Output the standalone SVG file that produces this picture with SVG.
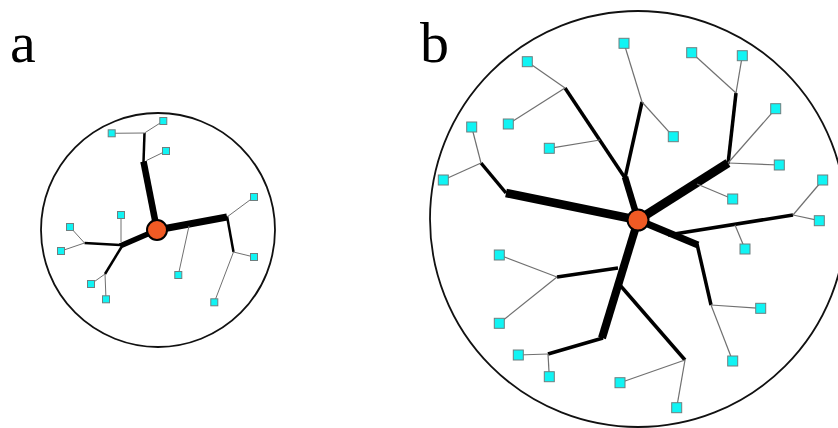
<svg xmlns="http://www.w3.org/2000/svg" width="838" height="428" viewBox="0 0 838 428">
  <style>
    .label { font-family: "Liberation Serif", "Times New Roman", serif; font-size: 58px; fill: #000; }
    .ring { fill: none; stroke: #111; stroke-width: 1.8; }
    .hub { fill: #F05A24; stroke: #000; stroke-width: 2; }
    .leaf-a rect, .leaf-b rect { fill: #10F4F4; stroke: #6f7f7f; stroke-width: 1; }
    .thick, .mid, .thin { stroke-linecap: butt; fill: none; }
    .mid { stroke: #000; }
    .thin { stroke: #707070; }
    .thick { stroke: #000; }
  </style>
  <rect width="838" height="428" fill="#fff"/>

  <text class="label" x="10" y="62">a</text>
  <text class="label" x="420" y="62">b</text>

  <!-- outer boundaries -->
  <circle id="boundary-a" class="ring" cx="158" cy="230" r="117"/>
  <circle id="boundary-b" class="ring" cx="638" cy="219" r="208"/>

  <g id="connectors">
    <!-- tree a -->
    <g id="connectors-a">
      <line class="thick" x1="157" y1="230" x2="143.5" y2="161.5" stroke-width="6.5"/>
      <line class="thick" x1="157" y1="230" x2="227" y2="217" stroke-width="7"/>
      <line class="thick" x1="157" y1="230" x2="120" y2="246" stroke-width="5.5"/>
      <line class="mid" x1="143.5" y1="162" x2="144.5" y2="133" stroke-width="2.5"/>
      <line class="mid" x1="227" y1="216" x2="233.5" y2="252" stroke-width="2.5"/>
      <line class="mid" x1="120" y1="245" x2="84.5" y2="243" stroke-width="2.5"/>
      <line class="mid" x1="121.5" y1="247" x2="105" y2="274" stroke-width="2.5"/>
      <line class="thin" x1="144.5" y1="133" x2="111.7" y2="133.3"/>
      <line class="thin" x1="144.5" y1="133" x2="163.3" y2="121"/>
      <line class="thin" x1="146.5" y1="160.5" x2="166" y2="151"/>
      <line class="thin" x1="227" y1="217" x2="254" y2="197"/>
      <line class="thin" x1="233.5" y1="252" x2="254" y2="257"/>
      <line class="thin" x1="233.5" y1="252" x2="214.3" y2="302.3"/>
      <line class="thin" x1="189" y1="226" x2="178.3" y2="275"/>
      <line class="thin" x1="84.5" y1="243" x2="70" y2="227"/>
      <line class="thin" x1="84.5" y1="243" x2="61" y2="251"/>
      <line class="thin" x1="105" y1="274" x2="91" y2="284"/>
      <line class="thin" x1="105" y1="274" x2="106" y2="299.3"/>
      <line class="thin" x1="121" y1="242" x2="121" y2="215"/>
    </g>
    <!-- tree b -->
    <g id="connectors-b">
      <line class="thick" x1="638" y1="220" x2="506" y2="193" stroke-width="8.5"/>
      <line class="thick" x1="638" y1="220" x2="625" y2="177" stroke-width="6.5"/>
      <line class="thick" x1="638" y1="220" x2="728" y2="163" stroke-width="9"/>
      <line class="thick" x1="638" y1="220" x2="698" y2="245" stroke-width="7"/>
      <line class="thick" x1="638" y1="220" x2="602" y2="338" stroke-width="8"/>
      <line class="mid" x1="506" y1="193" x2="481" y2="163" stroke-width="3.5"/>
      <line class="mid" x1="625" y1="178" x2="565" y2="88" stroke-width="3.5"/>
      <line class="mid" x1="625" y1="178" x2="642" y2="102" stroke-width="3.5"/>
      <line class="mid" x1="728" y1="164" x2="736" y2="93" stroke-width="3.5"/>
      <line class="mid" x1="668" y1="235" x2="793" y2="215" stroke-width="3.5"/>
      <line class="mid" x1="697" y1="244" x2="711" y2="305" stroke-width="3.5"/>
      <line class="mid" x1="619" y1="284" x2="685" y2="360" stroke-width="3.5"/>
      <line class="mid" x1="603" y1="338" x2="548" y2="354" stroke-width="3.5"/>
      <line class="mid" x1="618" y1="268" x2="557" y2="277" stroke-width="3.5"/>
      <line class="thin" x1="481" y1="163" x2="471.7" y2="127" stroke-width="1.2"/>
      <line class="thin" x1="481" y1="163" x2="443.3" y2="180" stroke-width="1.2"/>
      <line class="thin" x1="565" y1="88" x2="527.3" y2="61.7" stroke-width="1.2"/>
      <line class="thin" x1="565" y1="88" x2="508.3" y2="124" stroke-width="1.2"/>
      <line class="thin" x1="600" y1="140" x2="549.3" y2="148.3" stroke-width="1.2"/>
      <line class="thin" x1="642" y1="102" x2="624" y2="43.3" stroke-width="1.2"/>
      <line class="thin" x1="642" y1="102" x2="673.3" y2="136.7" stroke-width="1.2"/>
      <line class="thin" x1="736" y1="93" x2="691.7" y2="52.7" stroke-width="1.2"/>
      <line class="thin" x1="736" y1="93" x2="742.3" y2="55.7" stroke-width="1.2"/>
      <line class="thin" x1="728" y1="163" x2="775.7" y2="108.7" stroke-width="1.2"/>
      <line class="thin" x1="728" y1="163" x2="779.3" y2="165" stroke-width="1.2"/>
      <line class="thin" x1="697" y1="184" x2="732.7" y2="199" stroke-width="1.2"/>
      <line class="thin" x1="793" y1="215" x2="819.3" y2="220.7" stroke-width="1.2"/>
      <line class="thin" x1="793" y1="215" x2="822.7" y2="180" stroke-width="1.2"/>
      <line class="thin" x1="735" y1="225" x2="745" y2="249" stroke-width="1.2"/>
      <line class="thin" x1="711" y1="305" x2="760.7" y2="308.3" stroke-width="1.2"/>
      <line class="thin" x1="711" y1="305" x2="732.7" y2="361" stroke-width="1.2"/>
      <line class="thin" x1="685" y1="360" x2="676.7" y2="407.7" stroke-width="1.2"/>
      <line class="thin" x1="685" y1="360" x2="620" y2="382.7" stroke-width="1.2"/>
      <line class="thin" x1="548" y1="354" x2="518.3" y2="355" stroke-width="1.2"/>
      <line class="thin" x1="548" y1="354" x2="549.3" y2="376.7" stroke-width="1.2"/>
      <line class="thin" x1="557" y1="277" x2="499.3" y2="255" stroke-width="1.2"/>
      <line class="thin" x1="557" y1="277" x2="499.3" y2="323.3" stroke-width="1.2"/>
    </g>
  </g>

  <!-- tree a nodes -->
  <g id="hub-a"><circle class="hub" cx="157" cy="230" r="10"/></g>
  <g class="leaf-a">
    <g id="a1"><rect x="108.2" y="129.8" width="7" height="7"/></g>
    <g id="a2"><rect x="159.8" y="117.5" width="7" height="7"/></g>
    <g id="a3"><rect x="162.5" y="147.5" width="7" height="7"/></g>
    <g id="a4"><rect x="250.5" y="193.5" width="7" height="7"/></g>
    <g id="a5"><rect x="250.5" y="253.5" width="7" height="7"/></g>
    <g id="a6"><rect x="210.8" y="298.8" width="7" height="7"/></g>
    <g id="a7"><rect x="174.8" y="271.5" width="7" height="7"/></g>
    <g id="a8"><rect x="66.5" y="223.5" width="7" height="7"/></g>
    <g id="a9"><rect x="57.5" y="247.5" width="7" height="7"/></g>
    <g id="a10"><rect x="87.5" y="280.5" width="7" height="7"/></g>
    <g id="a11"><rect x="102.5" y="295.8" width="7" height="7"/></g>
    <g id="a12"><rect x="117.5" y="211.5" width="7" height="7"/></g>
  </g>

  <!-- tree b nodes -->
  <g id="hub-b"><circle class="hub" cx="638" cy="220" r="10.5"/></g>
  <g class="leaf-b">
    <g id="b1"><rect x="466.7" y="122" width="10" height="10"/></g>
    <g id="b2"><rect x="438.3" y="175" width="10" height="10"/></g>
    <g id="b3"><rect x="522.3" y="56.7" width="10" height="10"/></g>
    <g id="b4"><rect x="503.3" y="119" width="10" height="10"/></g>
    <g id="b5"><rect x="544.3" y="143.3" width="10" height="10"/></g>
    <g id="b6"><rect x="619" y="38.3" width="10" height="10"/></g>
    <g id="b7"><rect x="668.3" y="131.7" width="10" height="10"/></g>
    <g id="b8"><rect x="686.7" y="47.7" width="10" height="10"/></g>
    <g id="b9"><rect x="737.3" y="50.7" width="10" height="10"/></g>
    <g id="b10"><rect x="770.7" y="103.7" width="10" height="10"/></g>
    <g id="b11"><rect x="774.3" y="160" width="10" height="10"/></g>
    <g id="b12"><rect x="727.7" y="194" width="10" height="10"/></g>
    <g id="b13"><rect x="814.3" y="215.7" width="10" height="10"/></g>
    <g id="b14"><rect x="817.7" y="175" width="10" height="10"/></g>
    <g id="b15"><rect x="740" y="244" width="10" height="10"/></g>
    <g id="b16"><rect x="755.7" y="303.3" width="10" height="10"/></g>
    <g id="b17"><rect x="727.7" y="356" width="10" height="10"/></g>
    <g id="b18"><rect x="671.7" y="402.7" width="10" height="10"/></g>
    <g id="b19"><rect x="615" y="377.7" width="10" height="10"/></g>
    <g id="b20"><rect x="513.3" y="350" width="10" height="10"/></g>
    <g id="b21"><rect x="544.3" y="371.7" width="10" height="10"/></g>
    <g id="b22"><rect x="494.3" y="250" width="10" height="10"/></g>
    <g id="b23"><rect x="494.3" y="318.3" width="10" height="10"/></g>
  </g>
</svg>
